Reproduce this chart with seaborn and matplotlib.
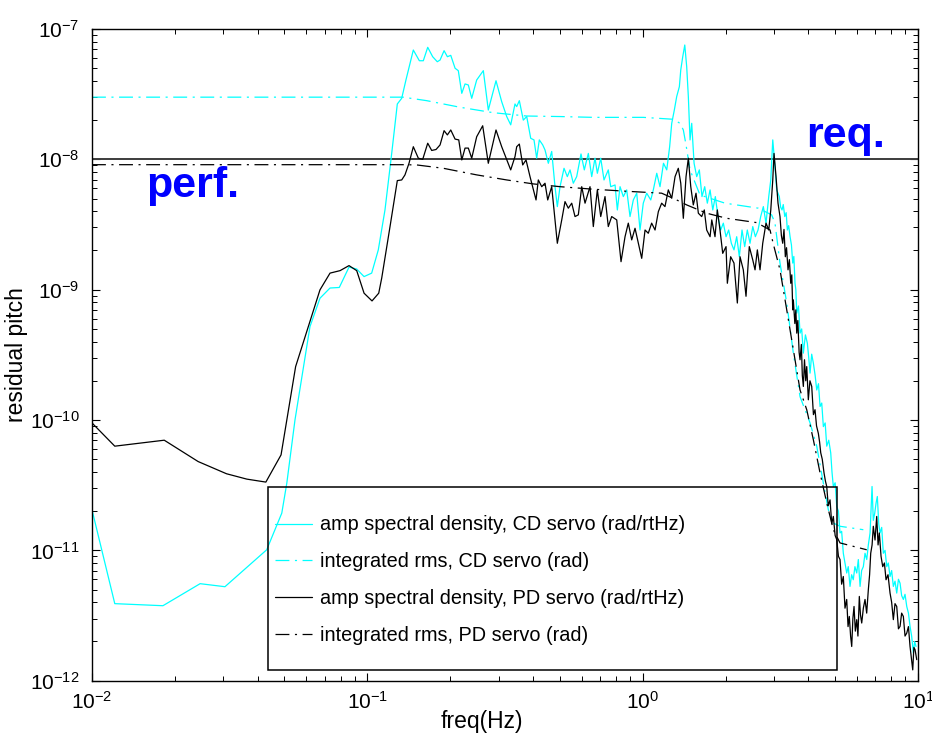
import matplotlib
matplotlib.use("Agg")
import matplotlib.pyplot as plt
import seaborn as sns
from matplotlib.patches import Rectangle
from matplotlib.ticker import LogLocator, NullFormatter

# ---------------- data ----------------
series_labels = [
    "amp spectral density, CD servo (rad/rtHz)",
    "integrated rms, CD servo (rad)",
    "amp spectral density, PD servo (rad/rtHz)",
    "integrated rms, PD servo (rad)",
]

cd_asd_freq = [
    0.01, 0.0121, 0.0181, 0.0247, 0.0304, 0.0431, 0.0489, 0.0510, 0.0546, 0.0619,
    0.0673, 0.0732, 0.0791, 0.0858, 0.0915, 0.0973, 0.1037, 0.1096, 0.1159, 0.1226,
    0.1285, 0.1333, 0.1381, 0.1469, 0.1545, 0.1597, 0.1657, 0.1727, 0.1795, 0.1837,
    0.1900, 0.1953, 0.2009, 0.2083, 0.2140, 0.2203, 0.2264, 0.2327, 0.2394, 0.2495,
    0.2638, 0.2750, 0.2933, 0.3076, 0.3208, 0.3317, 0.3438, 0.3487, 0.3565, 0.3685,
    0.3792, 0.3921, 0.4030, 0.4122, 0.4213, 0.4335, 0.4419, 0.4543, 0.4673, 0.4804,
    0.4898, 0.5010, 0.5180, 0.5325, 0.5447, 0.5598, 0.5759, 0.5970, 0.6138, 0.6348,
    0.6530, 0.6712, 0.6845, 0.7041, 0.7237, 0.7501, 0.7655, 0.7937, 0.8091, 0.8276,
    0.8506, 0.8750, 0.8995, 0.9247, 0.9515, 0.9779, 1.005, 1.034, 1.070, 1.093,
    1.125, 1.156, 1.190, 1.223, 1.253, 1.275, 1.303, 1.329, 1.359, 1.375,
    1.398, 1.422, 1.445, 1.465, 1.486, 1.507, 1.537, 1.571, 1.606, 1.642,
    1.680, 1.717, 1.757, 1.797, 1.836, 1.877, 1.920, 1.963, 2.008, 2.053,
    2.099, 2.146, 2.195, 2.244, 2.295, 2.347, 2.399, 2.454, 2.511, 2.566,
    2.624, 2.683, 2.743, 2.805, 2.870, 2.919, 2.968, 3.017, 3.067, 3.135,
    3.17, 3.207, 3.24, 3.281, 3.32, 3.353, 3.39, 3.430, 3.47, 3.507,
    3.54, 3.575, 3.60, 3.627, 3.68, 3.728, 3.78, 3.833, 3.90, 3.963,
    4.01, 4.054, 4.11, 4.168, 4.23, 4.287, 4.35, 4.408, 4.47, 4.531,
    4.60, 4.661, 4.74, 4.819, 4.87, 4.925, 5.00, 5.067, 5.14, 5.208,
    5.28, 5.354, 5.43, 5.508, 5.58, 5.662, 5.74, 5.819, 5.90, 5.990,
    6.07, 6.159, 6.24, 6.330, 6.42, 6.513, 6.60, 6.696, 6.808, 6.88,
    6.963, 7.04, 7.116, 7.20, 7.278, 7.38, 7.482, 7.59, 7.698, 7.80,
    7.914, 8.02, 8.135, 8.25, 8.369, 8.49, 8.605, 8.72, 8.846, 8.97,
    9.101, 9.23, 9.354, 9.48, 9.616, 9.72, 9.835,
]
cd_asd = [
    2.05e-11, 3.9e-12, 3.76e-12, 5.55e-12, 5.26e-12, 1.01e-11, 1.93e-11, 3.28e-11, 1.0e-10, 5.21e-10,
    8.6e-10, 1.03e-9, 1.04e-9, 1.49e-9, 1.44e-9, 1.26e-9, 1.34e-9, 2.02e-9, 4.09e-9, 1.11e-8,
    2.66e-8, 2.94e-8, 4.06e-8, 6.9e-8, 5.71e-8, 5.71e-8, 7.24e-8, 6.13e-8, 5.61e-8, 5.78e-8,
    6.82e-8, 6.13e-8, 6.28e-8, 5.0e-8, 4.79e-8, 3.21e-8, 3.79e-8, 3.72e-8, 2.94e-8, 4.06e-8,
    4.79e-8, 2.39e-8, 4.01e-8, 2.77e-8, 2.13e-8, 1.84e-8, 2.66e-8, 2.54e-8, 2.82e-8, 2.0e-8,
    2.13e-8, 1.45e-8, 1.41e-8, 1.02e-8, 1.41e-8, 1.29e-8, 1.18e-8, 9.33e-9, 1.15e-8, 6.17e-9,
    4.34e-9, 6.17e-9, 8.54e-9, 7.37e-9, 8.3e-9, 6.56e-9, 7.37e-9, 1.1e-8, 8.3e-9, 1.11e-8,
    7.37e-9, 1.02e-8, 7.82e-9, 1.02e-8, 6.95e-9, 8.3e-9, 6.17e-9, 6.36e-9, 4.09e-9, 6.17e-9,
    5.18e-9, 5.83e-9, 3.64e-9, 4.88e-9, 5.5e-9, 2.87e-9, 4.61e-9, 5.5e-9, 4.88e-9, 5.83e-9,
    7.82e-9, 6.17e-9, 9.33e-9, 8.3e-9, 1.25e-8, 1.89e-8, 2.39e-8, 3.03e-8, 3.61e-8, 4.85e-8,
    6.13e-8, 7.54e-8, 5.14e-8, 3.03e-8, 1.41e-8, 1.89e-8, 9.33e-9, 7.37e-9, 8.3e-9, 5.18e-9,
    6.17e-9, 4.61e-9, 5.83e-9, 4.09e-9, 5.18e-9, 3.64e-9, 2.87e-9, 3.24e-9, 2.55e-9, 2.87e-9,
    2.27e-9, 2.02e-9, 2.55e-9, 1.79e-9, 2.87e-9, 2.14e-9, 2.87e-9, 2.27e-9, 3.05e-9, 2.55e-9,
    2.87e-9, 3.64e-9, 4.34e-9, 3.24e-9, 5.18e-9, 6.95e-9, 1.41e-8, 9.33e-9, 5.83e-9, 5.18e-9,
    4.3e-9, 4.09e-9, 4.5e-9, 3.64e-9, 3.9e-9, 2.87e-9, 3.1e-9, 2.55e-9, 2.2e-9, 1.6e-9,
    1.8e-9, 1.12e-9, 1.0e-9, 6.6e-10, 7.5e-10, 4.64e-10, 5.0e-10, 3.26e-10, 4.5e-10, 3.89e-10,
    3.0e-10, 2.29e-10, 3.2e-10, 2.73e-10, 2.2e-10, 1.7e-10, 1.9e-10, 1.27e-10, 1.35e-10, 8.9e-11,
    9.5e-11, 6.3e-11, 7.0e-11, 5.6e-11, 4.0e-11, 3.09e-11, 3.3e-11, 2.17e-11, 2.0e-11, 1.36e-11,
    1.4e-11, 9.5e-12, 8.0e-12, 6.7e-12, 7.5e-12, 5.29e-12, 6.5e-12, 5.95e-12, 7.5e-12, 6.7e-12,
    8.5e-12, 5.29e-12, 7.0e-12, 7.5e-12, 9.5e-12, 8.5e-12, 1.1e-11, 1.36e-11, 3.09e-11, 1.7e-11,
    1.93e-11, 2.3e-11, 2.59e-11, 1.6e-11, 1.36e-11, 1.5e-11, 9.5e-12, 1.0e-11, 7.5e-12, 8.0e-12,
    6.3e-12, 7.0e-12, 5.29e-12, 5.8e-12, 4.7e-12, 6.0e-12, 5.6e-12, 4.5e-12, 4.2e-12, 4.6e-12,
    3.71e-12, 3.3e-12, 2.61e-12, 2.2e-12, 1.63e-12, 2.0e-12, 1.83e-12,
]

cd_rms_freq = [
    0.01, 0.1348, 0.1643, 0.2171, 0.2867, 0.3792, 0.5010, 0.6618, 1.005, 1.292,
    1.366, 1.405, 1.437, 1.486, 1.615, 1.991, 2.630, 2.94, 3.024, 3.153,
    3.336, 3.525, 3.728, 4.054, 4.287, 4.531, 4.723, 4.925, 5.208, 6.330,
]
cd_rms = [
    3.0e-8, 3.0e-8, 2.82e-8, 2.51e-8, 2.28e-8, 2.15e-8, 2.13e-8, 2.10e-8, 2.10e-8, 2.03e-8,
    1.89e-8, 1.68e-8, 1.29e-8, 8.3e-9, 5.33e-9, 4.61e-9, 4.22e-9, 3.75e-9, 3.24e-9, 1.6e-9,
    7.9e-10, 3.26e-10, 1.51e-10, 9.5e-11, 6.3e-11, 3.28e-11, 2.05e-11, 1.62e-11, 1.53e-11, 1.44e-11,
]

pd_asd_freq = [
    0.01, 0.0121, 0.0183, 0.0243, 0.0308, 0.0365, 0.0428, 0.0486, 0.0549, 0.0673,
    0.0732, 0.0796, 0.0858, 0.0915, 0.0973, 0.104, 0.110, 0.1128, 0.1209, 0.1285,
    0.1333, 0.1370, 0.1417, 0.1469, 0.1532, 0.1589, 0.1657, 0.1713, 0.1776, 0.1837,
    0.190, 0.1953, 0.2009, 0.2083, 0.2148, 0.2203, 0.2264, 0.2327, 0.2394, 0.2495,
    0.2624, 0.2750, 0.2933, 0.3076, 0.3317, 0.3438, 0.3487, 0.3565, 0.3667, 0.3770,
    0.3898, 0.4099, 0.4178, 0.4299, 0.4419, 0.4520, 0.4673, 0.4898, 0.5082, 0.5223,
    0.5370, 0.5525, 0.5679, 0.5838, 0.6007, 0.6175, 0.6438, 0.6618, 0.6845, 0.7041,
    0.7298, 0.7501, 0.7718, 0.8049, 0.8344, 0.8628, 0.8867, 0.9124, 0.9380, 0.9643,
    0.992, 1.020, 1.048, 1.078, 1.109, 1.140, 1.172, 1.205, 1.239, 1.275,
    1.311, 1.347, 1.375, 1.405, 1.437, 1.465, 1.495, 1.527, 1.562, 1.593,
    1.638, 1.674, 1.708, 1.757, 1.782, 1.831, 1.867, 1.909, 1.953, 2.008,
    2.030, 2.087, 2.146, 2.207, 2.257, 2.320, 2.373, 2.439, 2.511, 2.559,
    2.609, 2.668, 2.729, 2.805, 2.870, 2.919, 2.968, 2.999, 3.050, 3.101,
    3.153, 3.19, 3.226, 3.26, 3.297, 3.33, 3.372, 3.41, 3.449, 3.48,
    3.507, 3.525, 3.57, 3.60, 3.627, 3.66, 3.70, 3.728, 3.77, 3.80,
    3.833, 3.87, 3.91, 3.943, 3.996, 4.05, 4.111, 4.17, 4.226, 4.28,
    4.345, 4.39, 4.433, 4.49, 4.557, 4.61, 4.661, 4.72, 4.791, 4.86,
    4.925, 5.00, 5.067, 5.14, 5.208, 5.28, 5.354, 5.43, 5.508, 5.57,
    5.630, 5.69, 5.744, 5.80, 5.856, 5.92, 5.990, 6.05, 6.121, 6.18,
    6.245, 6.33, 6.420, 6.51, 6.600, 6.67, 6.733, 6.81, 6.881, 6.98,
    7.079, 7.16, 7.236, 7.34, 7.444, 7.55, 7.653, 7.78, 7.914, 8.02,
    8.135, 8.25, 8.369, 8.49, 8.605, 8.72, 8.846, 8.97, 9.101, 9.23,
    9.354, 9.46, 9.568, 9.66, 9.755, 9.893,
]
pd_asd = [
    9.5e-11, 6.3e-11, 7.0e-11, 4.8e-11, 3.87e-11, 3.52e-11, 3.34e-11, 5.4e-11, 2.57e-10, 9.97e-10,
    1.34e-9, 1.40e-9, 1.53e-9, 1.40e-9, 9.4e-10, 8.2e-10, 9.4e-10, 1.23e-9, 3.05e-9, 6.87e-9,
    6.95e-9, 7.6e-9, 9.33e-9, 1.25e-8, 1.02e-8, 1.0e-8, 1.33e-8, 1.17e-8, 1.19e-8, 1.29e-8,
    1.66e-8, 1.54e-8, 1.68e-8, 1.43e-8, 1.41e-8, 9.9e-9, 1.22e-8, 1.22e-8, 1.02e-8, 1.49e-8,
    1.81e-8, 9.33e-9, 1.68e-8, 1.25e-8, 8.3e-9, 1.05e-8, 1.25e-8, 1.31e-8, 9.06e-9, 9.9e-9,
    7.37e-9, 4.88e-9, 6.95e-9, 6.17e-9, 6.56e-9, 4.88e-9, 6.17e-9, 2.27e-9, 3.43e-9, 4.74e-9,
    4.22e-9, 4.61e-9, 3.64e-9, 3.75e-9, 6.17e-9, 4.61e-9, 6.17e-9, 3.05e-9, 5.83e-9, 3.64e-9,
    5.18e-9, 3.05e-9, 3.64e-9, 3.43e-9, 1.64e-9, 2.55e-9, 3.24e-9, 2.41e-9, 2.96e-9, 2.27e-9,
    1.74e-9, 2.87e-9, 2.71e-9, 3.24e-9, 2.87e-9, 3.97e-9, 4.61e-9, 4.34e-9, 5.83e-9, 5.03e-9,
    7.37e-9, 8.54e-9, 6.56e-9, 3.53e-9, 7.37e-9, 1.02e-8, 6.17e-9, 4.47e-9, 5.5e-9, 3.86e-9,
    3.64e-9, 4.09e-9, 2.87e-9, 2.55e-9, 3.43e-9, 2.55e-9, 4.09e-9, 2.87e-9, 1.9e-9, 2.14e-9,
    1.12e-9, 1.79e-9, 1.6e-9, 7.9e-10, 1.79e-9, 1.42e-9, 8.9e-10, 2.14e-9, 1.69e-9, 1.42e-9,
    2.02e-9, 1.42e-9, 2.27e-9, 3.24e-9, 2.87e-9, 4.09e-9, 6.95e-9, 1.11e-8, 7.37e-9, 4.61e-9,
    3.64e-9, 2.6e-9, 2.27e-9, 2.9e-9, 1.79e-9, 2.1e-9, 1.42e-9, 1.7e-9, 1.12e-9, 1.3e-9,
    7.0e-10, 8.35e-10, 5.5e-10, 7.0e-10, 4.64e-10, 5.8e-10, 3.3e-10, 2.9e-10, 3.8e-10, 2.2e-10,
    1.81e-10, 2.9e-10, 2.0e-10, 2.57e-10, 1.43e-10, 2.0e-10, 1.81e-10, 1.1e-10, 1.2e-10, 9.0e-11,
    7.9e-11, 6.8e-11, 5.6e-11, 5.0e-11, 3.92e-11, 3.4e-11, 3.09e-11, 2.2e-11, 2.44e-11, 1.6e-11,
    1.82e-11, 1.3e-11, 1.21e-11, 9.0e-12, 8.5e-12, 5.5e-12, 6.3e-12, 3.6e-12, 4.2e-12, 2.6e-12,
    3.11e-12, 2.2e-12, 1.83e-12, 3.0e-12, 3.71e-12, 2.4e-12, 2.94e-12, 2.2e-12, 4.43e-12, 3.2e-12,
    2.77e-12, 3.6e-12, 4.2e-12, 3.3e-12, 4.99e-12, 6.5e-12, 9.5e-12, 1.1e-11, 1.53e-11, 1.2e-11,
    1.82e-11, 1.1e-11, 1.36e-11, 9.0e-12, 7.5e-12, 8.0e-12, 5.95e-12, 6.5e-12, 4.7e-12, 4.0e-12,
    2.94e-12, 3.9e-12, 3.71e-12, 2.5e-12, 2.61e-12, 3.3e-12, 3.11e-12, 2.2e-12, 2.32e-12, 2.6e-12,
    1.83e-12, 1.5e-12, 1.21e-12, 1.8e-12, 1.73e-12, 1.45e-12,
]

pd_rms_freq = [
    0.01, 0.1348, 0.1511, 0.1888, 0.2495, 0.3208, 0.4007, 0.5010, 0.6618, 0.8750,
    1.172, 1.329, 1.445, 1.708, 2.019, 2.596, 2.901, 2.977, 3.153, 3.336,
    3.728, 3.943, 4.168, 4.408, 4.661, 4.925, 5.208, 6.513,
]
pd_rms = [
    9.1e-9, 9.1e-9, 9.06e-9, 8.54e-9, 7.6e-9, 6.95e-9, 6.48e-9, 6.17e-9, 5.9e-9, 5.69e-9,
    5.5e-9, 4.88e-9, 4.47e-9, 3.86e-9, 3.53e-9, 3.27e-9, 2.87e-9, 2.27e-9, 1.42e-9, 7.0e-10,
    1.7e-10, 1.2e-10, 7.05e-11, 3.92e-11, 2.31e-11, 1.44e-11, 1.14e-11, 1.01e-11,
]

requirement = 1e-8
x_limits = (1e-2, 1e1)
y_limits = (1e-12, 1e-7)

# ---------------- style ----------------
sns.set_theme(style="ticks")
plt.rcParams.update({
    "font.family": ["Liberation Sans", "DejaVu Sans"],
    "mathtext.fontset": "custom",
    "mathtext.rm": "Liberation Sans",
    "mathtext.it": "Liberation Sans:italic",
    "mathtext.bf": "Liberation Sans:bold",
    "lines.scale_dashes": False,
    "text.color": "black",
    "axes.labelcolor": "black",
    "axes.linewidth": 1.0,
    "axes.edgecolor": "black",
    "xtick.direction": "in", "ytick.direction": "in",
    "xtick.top": True, "ytick.right": True,
    "xtick.major.size": 6, "ytick.major.size": 6,
    "xtick.minor.size": 3.5, "ytick.minor.size": 3.5,
    "xtick.major.width": 0.8, "ytick.major.width": 0.8,
    "xtick.minor.width": 0.7, "ytick.minor.width": 0.7,
    "xtick.color": "black", "ytick.color": "black",
    "xtick.labelcolor": "black", "ytick.labelcolor": "black",
})

fig = plt.figure(figsize=(9.32, 7.44), dpi=100)
ax = fig.add_axes([0.0987, 0.0851, 0.8863, 0.8759])
ax.set_xscale("log")
ax.set_yscale("log")

rms_dash = (0, (10, 4, 1.5, 4))
sns.lineplot(x=cd_asd_freq, y=cd_asd, ax=ax, color="#00FFFF", lw=0.9,
             estimator=None, sort=False)
sns.lineplot(x=cd_rms_freq, y=cd_rms, ax=ax, color="#00FFFF", lw=0.9,
             linestyle=rms_dash, estimator=None, sort=False)
sns.lineplot(x=pd_asd_freq, y=pd_asd, ax=ax, color="black", lw=0.9,
             estimator=None, sort=False)
sns.lineplot(x=pd_rms_freq, y=pd_rms, ax=ax, color="black", lw=0.9,
             linestyle=rms_dash, estimator=None, sort=False)
lines = list(ax.lines)

ax.axhline(requirement, color="#3c3c3c", lw=1.4, zorder=1.5)

ax.set_xlim(*x_limits)
ax.set_ylim(*y_limits)
ax.xaxis.set_major_locator(LogLocator(base=10, numticks=10))
ax.yaxis.set_major_locator(LogLocator(base=10, numticks=10))
ax.xaxis.set_minor_locator(LogLocator(base=10, subs=range(2, 10), numticks=100))
ax.yaxis.set_minor_locator(LogLocator(base=10, subs=range(2, 10), numticks=100))
ax.xaxis.set_minor_formatter(NullFormatter())
ax.yaxis.set_minor_formatter(NullFormatter())
ax.tick_params(axis="x", which="major", labelsize=15, pad=7)
ax.tick_params(axis="y", which="major", labelsize=15, pad=9)
for s in ax.spines.values():
    s.set_visible(True)
    s.set_color("black")

ax.set_xlabel("freq(Hz)", fontsize=16.5)
ax.xaxis.set_label_coords(0.472, -0.045)
ax.set_ylabel("residual pitch", fontsize=16.5)
ax.yaxis.set_label_coords(-0.0775, 0.5)

ax.text(0.0662, 0.7427, "perf.", transform=ax.transAxes, fontsize=31,
        fontweight="bold", color="#0000FF", va="baseline", ha="left")
ax.text(0.8644, 0.8194, "req.", transform=ax.transAxes, fontsize=31,
        fontweight="bold", color="#0000FF", va="baseline", ha="left")

# legend box (transparent, black frame) and frameless legend inside it
ax.add_patch(Rectangle((0.2131, 0.0164), 0.6889, 0.2808, transform=ax.transAxes,
                       fill=False, ec="black", lw=1.1, zorder=5))
leg = ax.legend(lines, series_labels, loc="upper left",
                bbox_to_anchor=(0.2215, 0.2535), frameon=False, fontsize=14.3,
                borderpad=0, borderaxespad=0, handlelength=1.85,
                handletextpad=0.4, labelspacing=0.9)
leg.set_zorder(6)

fig.savefig("out.png", dpi=100, facecolor="white")
